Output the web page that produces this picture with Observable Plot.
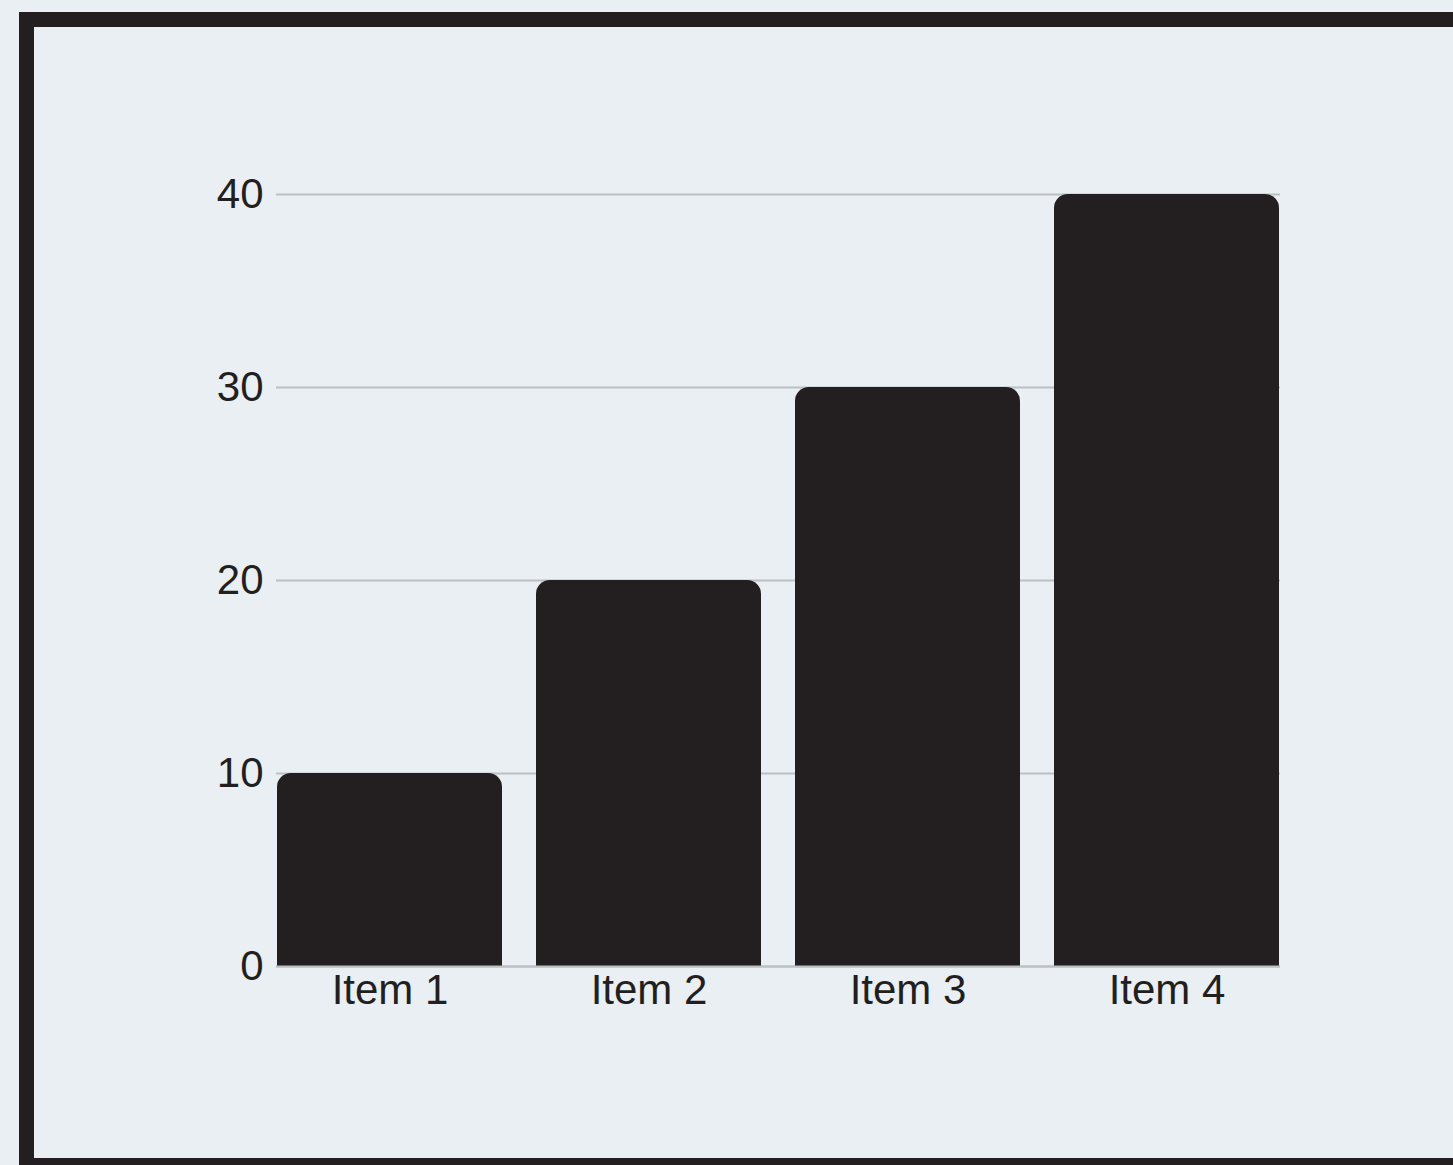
<!DOCTYPE html>
<html>
<head>
<meta charset="utf-8">
<script src="https://cdn.jsdelivr.net/npm/d3@7"></script>
<script src="https://cdn.jsdelivr.net/npm/@observablehq/plot@0.6"></script>
<style>
  html, body { margin: 0; padding: 0; background: #e9eff2; overflow: hidden; width: 1453px; height: 1165px; }
  #frame { position: absolute; left: 19px; top: 12px; width: 1500px; height: 1131px; border: 15px solid #231f20; box-sizing: content-box; }
  #chart { position: absolute; left: 0; top: 0; }
  #chart svg { background: transparent; }
</style>
</head>
<body>
<div id="frame"></div>
<div id="chart"></div>
<script>
const categories = ["Item 1", "Item 2", "Item 3", "Item 4"];
const values = [10, 20, 30, 40];
const yTicks = [0, 10, 20, 30, 40];

const data = categories.map((c, i) => ({category: c, value: values[i]}));

const plot = Plot.plot({
  width: 1453,
  height: 1165,
  marginLeft: 276,
  marginRight: 173,
  marginTop: 194,
  marginBottom: 199,
  style: {background: "transparent", fontFamily: "'Liberation Sans', Arial, sans-serif", fontSize: "42px", color: "#231f20", overflow: "visible"},
  x: {domain: categories, paddingInner: 0.133, paddingOuter: 0, label: null},
  y: {domain: [0, 40], ticks: yTicks, label: null},
  marks: [
    Plot.gridY(yTicks, {stroke: "#bcc0c3", strokeOpacity: 1, strokeWidth: 2}),
    Plot.barY(data, {x: "category", y: "value", fill: "#231f20", ry1: 14}),
    Plot.ruleY([0], {stroke: "#bcc0c3", strokeWidth: 2}),
    Plot.axisY(yTicks, {tickSize: 0, tickPadding: 13, label: null, fontSize: 42, fill: "#231f20"}),
    Plot.axisX({tickSize: 0, tickPadding: 8, label: null, fontSize: 42, fill: "#231f20"})
  ]
});
document.getElementById("chart").appendChild(plot);
</script>
</body>
</html>
